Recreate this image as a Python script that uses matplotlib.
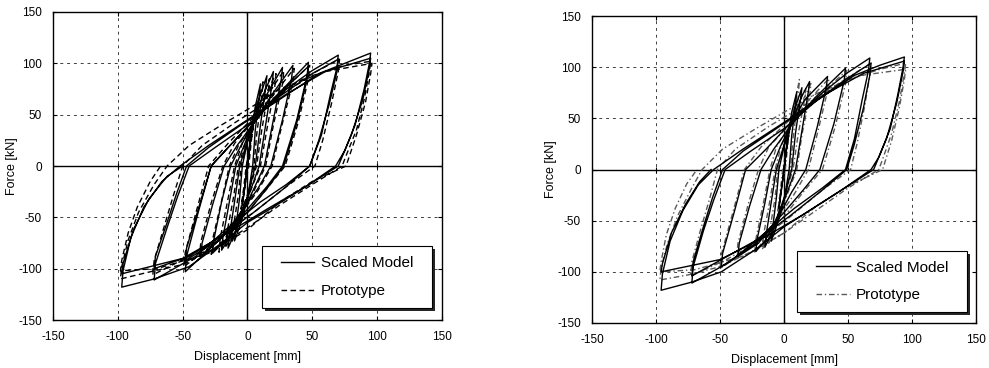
import numpy as np
import matplotlib.pyplot as plt
from matplotlib.patches import Rectangle

plt.rcParams['font.family'] = ['Liberation Sans', 'DejaVu Sans']
plt.rcParams['axes.unicode_minus'] = False

# load-displacement history, (displacement [mm], force [kN]) in loading order
scaled_a = [
    (0, 0), (2, 22), (4, 42), (2, 24), (0, 2), (-2, -20), (-4, -38), (-2, -20), (0, 0),
    (3, 35), (6, 58), (10, 80), (9, 66), (6, 35), (4, 0), (0, -32), (-5, -55), (-10, -73), (-9, -60), (-6, -30), (-4, 0),
    (1, 30), (8, 62), (15, 88), (14, 76), (10, 40), (6, 0), (0, -30), (-8, -60), (-15, -80), (-14, -68), (-10, -35), (-6, 0),
    (0, 25), (8, 55), (14, 75), (20, 92), (19, 80), (14, 40), (9, 0), (2, -25), (-8, -55), (-14, -70), (-20, -82), (-19, -70), (-14, -35), (-9, 0),
    (-2, 22), (6, 45), (15, 70), (27, 96), (26, 84), (20, 45), (13, 0), (5, -22), (-5, -48), (-15, -70), (-27, -85), (-26, -72), (-20, -35), (-13, 0),
    (-5, 20), (5, 42), (18, 68), (35, 98), (34, 85), (27, 45), (18, 0), (8, -22), (-5, -45), (-20, -70), (-36, -88), (-35, -75), (-27, -38), (-18, 0),
    (-8, 20), (5, 42), (22, 68), (47, 101), (46, 88), (38, 45), (27, 0), (15, -20), (0, -42), (-20, -70), (-48, -103), (-47, -88), (-38, -45), (-28, 0),
    (-15, 18), (0, 38), (20, 65), (47, 97), (46, 85), (38, 42), (28, 0), (15, -22), (0, -45), (-22, -72), (-48, -92), (-47, -80), (-38, -42), (-28, 0),
    (-12, 22), (5, 45), (30, 75), (50, 93), (70, 108), (69, 96), (64, 70), (57, 30), (48, 0), (30, -18), (10, -35), (-15, -60), (-40, -88), (-72, -111), (-71, -95), (-62, -60), (-54, -30), (-45, 0),
    (-25, 18), (0, 40), (25, 68), (50, 90), (70, 104), (69, 92), (63, 60), (55, 25), (48, 0), (30, -20), (5, -45), (-20, -68), (-45, -88), (-72, -100), (-71, -88), (-62, -55), (-55, -28), (-47, 0),
    (-30, 18), (-5, 40), (25, 65), (55, 90), (75, 100), (95, 110), (94, 100), (90, 75), (83, 40), (75, 15), (68, 0), (45, -20), (20, -40), (0, -55), (-20, -75), (-45, -98), (-72, -110), (-97, -118), (-96, -102), (-90, -70), (-80, -40), (-66, -15), (-52, 0),
    (-30, 20), (0, 45), (30, 70), (60, 92), (95, 105), (94, 95), (89, 65), (80, 30), (70, 0), (45, -20), (15, -42), (-15, -65), (-50, -90), (-97, -105), (-96, -95), (-88, -62), (-76, -32), (-62, -10), (-50, 0),
]

proto_a = [
    (0, 0), (3, 28), (5, 45), (3, 25), (1, 0), (-3, -25), (-5, -42), (-3, -22), (-1, 0),
    (4, 35), (8, 62), (12, 82), (11, 68), (7, 30), (5, 0), (0, -30), (-6, -55), (-12, -74), (-11, -60), (-7, -28), (-5, 0),
    (2, 30), (9, 60), (17, 85), (16, 72), (11, 35), (7, 0), (0, -28), (-9, -58), (-17, -80), (-16, -66), (-11, -32), (-7, 0),
    (-1, 25), (8, 52), (15, 72), (22, 90), (21, 77), (15, 36), (10, 0), (2, -25), (-8, -52), (-15, -68), (-22, -84), (-21, -70), (-15, -32), (-10, 0),
    (-4, 22), (5, 45), (15, 68), (28, 93), (27, 80), (20, 40), (14, 0), (5, -24), (-6, -50), (-17, -70), (-28, -86), (-27, -72), (-20, -34), (-14, 0),
    (-7, 20), (5, 43), (18, 66), (36, 95), (35, 82), (27, 42), (19, 0), (8, -24), (-6, -48), (-22, -72), (-37, -88), (-36, -74), (-28, -36), (-19, 0),
    (-10, 22), (5, 45), (22, 68), (48, 98), (47, 85), (39, 42), (29, 0), (15, -22), (0, -45), (-20, -70), (-49, -98), (-48, -84), (-39, -42), (-30, 0),
    (-15, 22), (5, 48), (30, 75), (50, 90), (71, 104), (70, 92), (65, 62), (58, 25), (52, 0), (30, -20), (5, -45), (-20, -68), (-45, -88), (-73, -106), (-72, -92), (-64, -58), (-57, -28), (-50, 0),
    (-35, 20), (-10, 42), (20, 66), (50, 88), (75, 98), (95, 102), (94, 92), (90, 65), (84, 35), (76, 10), (73, 0), (50, -18), (25, -38), (0, -60), (-25, -80), (-50, -96), (-75, -103), (-98, -110), (-97, -98), (-92, -72), (-84, -45), (-72, -18), (-62, 0),
    (-45, 20), (-20, 40), (0, 55), (25, 75), (60, 92), (96, 100), (95, 90), (91, 62), (84, 30), (76, 0), (50, -15), (25, -35), (0, -62), (-30, -85), (-70, -100), (-98, -102), (-97, -92), (-92, -65), (-85, -40), (-75, -15), (-67, 0),
]

scaled_b = [
    (0, 0), (2, 20), (4, 40), (2, 22), (0, 0), (-2, -20), (-4, -38), (-2, -18), (0, 0),
    (3, 33), (6, 56), (10, 76), (9, 64), (6, 33), (4, 0), (0, -30), (-5, -52), (-10, -70), (-9, -58), (-6, -28), (-4, 0),
    (1, 28), (8, 58), (14, 80), (13, 70), (9, 36), (6, 0), (0, -28), (-8, -58), (-15, -76), (-14, -64), (-10, -32), (-6, 0),
    (0, 24), (8, 52), (14, 72), (20, 86), (19, 76), (14, 38), (9, 0), (2, -24), (-8, -54), (-15, -70), (-22, -80), (-21, -68), (-15, -33), (-10, 0),
    (-3, 22), (6, 45), (16, 68), (34, 91), (33, 80), (26, 42), (17, 0), (6, -22), (-6, -50), (-20, -72), (-36, -85), (-35, -72), (-27, -36), (-18, 0),
    (-8, 20), (6, 44), (24, 70), (48, 99), (47, 87), (39, 45), (28, 0), (15, -20), (0, -42), (-22, -72), (-49, -95), (-48, -82), (-39, -42), (-30, 0),
    (-14, 20), (4, 44), (30, 75), (50, 95), (67, 109), (66, 97), (61, 68), (55, 30), (48, 0), (30, -18), (8, -38), (-15, -62), (-42, -90), (-72, -111), (-71, -95), (-63, -60), (-55, -30), (-46, 0),
    (-26, 18), (0, 40), (26, 68), (48, 88), (68, 104), (67, 92), (62, 60), (55, 25), (49, 0), (30, -20), (5, -45), (-20, -68), (-46, -86), (-72, -104), (-71, -90), (-63, -56), (-56, -28), (-48, 0),
    (-32, 18), (-6, 40), (24, 66), (55, 92), (75, 102), (94, 110), (93, 100), (89, 74), (83, 40), (74, 12), (68, 0), (45, -20), (20, -40), (0, -56), (-22, -78), (-49, -100), (-72, -110), (-96, -118), (-95, -102), (-89, -70), (-79, -40), (-67, -15), (-55, 0),
    (-32, 20), (0, 46), (30, 72), (62, 94), (94, 106), (93, 96), (88, 65), (80, 30), (70, 0), (45, -20), (15, -44), (-15, -66), (-50, -88), (-96, -100), (-95, -92), (-88, -62), (-77, -34), (-66, -12), (-57, 0),
]

proto_b = [
    (0, 0), (3, 28), (5, 45), (3, 25), (1, 0), (-3, -25), (-5, -42), (-3, -22), (-1, 0),
    (4, 35), (8, 62), (12, 88), (11, 70), (7, 30), (5, 0), (0, -30), (-6, -55), (-12, -72), (-11, -58), (-7, -28), (-5, 0),
    (2, 30), (9, 58), (17, 80), (16, 68), (11, 34), (7, 0), (0, -28), (-9, -58), (-17, -78), (-16, -64), (-11, -30), (-7, 0),
    (-2, 24), (8, 50), (21, 84), (20, 72), (14, 34), (10, 0), (2, -26), (-8, -54), (-23, -82), (-22, -68), (-16, -32), (-11, 0),
    (-6, 22), (6, 46), (18, 66), (35, 89), (34, 77), (27, 40), (19, 0), (8, -24), (-6, -50), (-22, -72), (-37, -86), (-36, -72), (-28, -34), (-20, 0),
    (-12, 22), (5, 45), (24, 68), (49, 97), (48, 84), (40, 42), (30, 0), (15, -22), (0, -46), (-22, -72), (-50, -97), (-49, -83), (-40, -42), (-31, 0),
    (-18, 22), (4, 48), (30, 74), (50, 90), (68, 104), (67, 92), (63, 62), (57, 25), (52, 0), (30, -20), (5, -46), (-20, -70), (-45, -88), (-73, -104), (-72, -90), (-65, -58), (-58, -28), (-52, 0),
    (-38, 20), (-12, 42), (20, 66), (50, 88), (75, 98), (95, 104), (94, 94), (90, 66), (84, 35), (77, 10), (74, 0), (50, -18), (25, -40), (0, -62), (-25, -80), (-50, -95), (-75, -103), (-97, -108), (-96, -96), (-91, -72), (-83, -45), (-72, -18), (-64, 0),
    (-48, 20), (-22, 40), (0, 56), (25, 74), (60, 92), (95, 98), (94, 88), (90, 60), (84, 28), (77, 0), (50, -16), (25, -36), (0, -62), (-30, -84), (-70, -98), (-97, -100), (-96, -90), (-92, -64), (-85, -38), (-76, -14), (-68, 0),
]

ticks = [-150, -100, -50, 0, 50, 100, 150]
grid_vals = [-100, -50, 50, 100]

fig = plt.figure(figsize=(9.89, 3.68), dpi=100)
ax1 = fig.add_axes([0.0536, 0.1304, 0.3933, 0.837])
ax2 = fig.add_axes([0.5986, 0.1223, 0.3883, 0.834])

# axes, data, prototype dash style / colour, legend box (axes fraction x0, y0, w, h)
panels = [(ax1, scaled_a, proto_a, (0, (4, 2.5)), 'black', (0.537, 0.039, 0.437, 0.201)),
          (ax2, scaled_b, proto_b, (0, (4, 2, 1, 2)), '0.35', (0.534, 0.036, 0.443, 0.199))]

for ax, sm, pt, pstyle, pcolor, box in panels:
    sm = np.array(sm, dtype=float)
    pt = np.array(pt, dtype=float)

    # dashed grid at +-50, +-100 and solid zero axes
    for g in grid_vals:
        ax.axvline(g, color='0.25', lw=0.7, ls=(0, (3, 4)), zorder=0)
        ax.axhline(g, color='0.25', lw=0.7, ls=(0, (3, 4)), zorder=0)
    ax.axvline(0, color='black', lw=1.0, zorder=1)
    ax.axhline(0, color='black', lw=1.0, zorder=1)
    ax.plot(ticks, [0] * len(ticks), ls='none', marker='|', ms=5, color='black', mew=0.8)
    ax.plot([0] * len(ticks), ticks, ls='none', marker='_', ms=5, color='black', mew=0.8)

    ax.plot(sm[:, 0], sm[:, 1], color='black', lw=1.0, label='Scaled Model', zorder=3)
    ax.plot(pt[:, 0], pt[:, 1], color=pcolor, lw=1.0, ls=pstyle, label='Prototype', zorder=2)

    ax.set_xlim(-150, 150)
    ax.set_ylim(-150, 150)
    ax.set_xticks(ticks)
    ax.set_yticks(ticks)
    ax.tick_params(direction='in', length=3, width=0.8, labelsize=8.5, pad=8, top=True, right=True)
    for s in ax.spines.values():
        s.set_linewidth(1.0)
    ax.set_xlabel('Displacement [mm]', fontsize=9, labelpad=6)
    ax.set_ylabel('Force [kN]', fontsize=9, labelpad=0)

    # legend box with a dark drop shadow
    x0, y0, w, h = box
    ax.add_patch(Rectangle((x0 + 0.008, y0 - 0.011), w, h, transform=ax.transAxes,
                           facecolor='0.15', edgecolor='none', zorder=5))
    ax.add_patch(Rectangle((x0, y0), w, h, transform=ax.transAxes,
                           facecolor='white', edgecolor='black', lw=0.8, zorder=6))
    leg = ax.legend(loc='center', bbox_to_anchor=(x0 + w / 2, y0 + h / 2), fontsize=11,
                    frameon=False, handlelength=2.2, handletextpad=0.4,
                    labelspacing=0.9, borderpad=0, borderaxespad=0)
    leg.set_zorder(7)

fig.savefig('out.png', dpi=100)
